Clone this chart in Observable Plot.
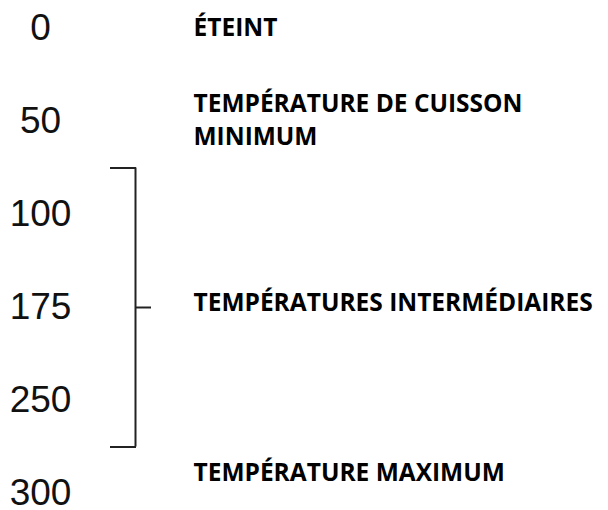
<!DOCTYPE html>
<html>
<head>
<meta charset="utf-8">
<script src="https://cdn.jsdelivr.net/npm/d3@7"></script>
<script src="https://cdn.jsdelivr.net/npm/@observablehq/plot@0.6"></script>
<style>
  html, body { margin: 0; padding: 0; background: #fff; }
</style>
</head>
<body>
<div id="chart"></div>
<script>
// Temperature scale levels (tick labels)
const temps = ["0", "50", "100", "175", "250", "300"];
// Descriptive labels and the temperature they refer to
const labelTexts = ["ÉTEINT", "TEMPÉRATURE DE CUISSON\nMINIMUM", "TEMPÉRATURES INTERMÉDIAIRES", "TEMPÉRATURE MAXIMUM"];
const labelTemps = ["0", "50", "175", "300"];
// Bracket groups the intermediate temperatures
const bracketFrom = "100";
const bracketTo = "250";
const bracketMid = "175";

const idx = t => temps.indexOf(t);
const tempRows = temps.map((t, i) => ({t, i}));
const labelRows = labelTexts.map((text, k) => ({text, i: idx(labelTemps[k])}));
const bTop = idx(bracketFrom) - 0.5, bBot = idx(bracketTo) + 0.5, bMid = idx(bracketMid);

const labelFont = {fontFamily: "'Open Sans', sans-serif", fontWeight: 700, fontSize: 24.5, fill: "#000", textAnchor: "start", lineHeight: 1.35};
const dys = [-3, -4, -7, -23];

const chart = Plot.plot({
  width: 608,
  height: 510,
  margin: 0,
  x: {domain: [0, 608], range: [0, 608], axis: null},
  y: {domain: [0, temps.length - 1], range: [28, 493], axis: null},
  style: {background: "#fff"},
  marks: [
    Plot.text(tempRows, {x: 40, y: "i", text: "t", fontFamily: "'Liberation Sans', Arial, sans-serif", fontSize: 37, fill: "#111", textAnchor: "middle"}),
    Plot.ruleX([135], {y1: bTop, y2: bBot, stroke: "#222", strokeWidth: 2}),
    Plot.ruleY([bTop, bBot], {x1: 110, x2: 136, stroke: "#222", strokeWidth: 2}),
    Plot.ruleY([bMid], {x1: 135, x2: 151, stroke: "#222", strokeWidth: 2}),
    ...labelRows.map((d, k) => Plot.text([d], {x: 193, y: "i", text: "text", dy: dys[k], ...labelFont}))
  ]
});
document.getElementById("chart").append(chart);
</script>
</body>
</html>
